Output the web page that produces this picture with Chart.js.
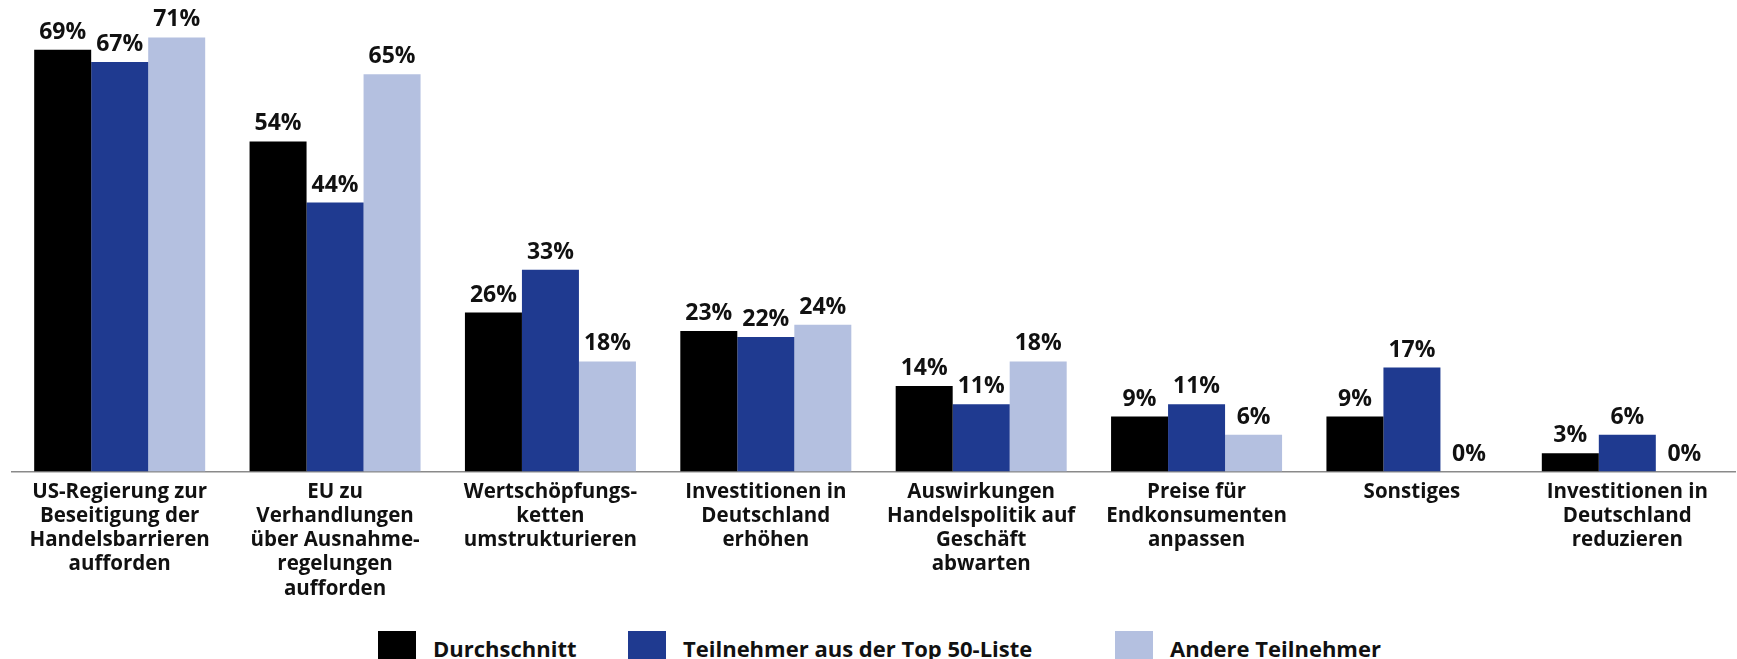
<!DOCTYPE html>
<html lang="de">
<head>
<meta charset="utf-8">
<title>Maßnahmen</title>
<script src="https://cdn.jsdelivr.net/npm/chart.js@4.4.1/dist/chart.umd.min.js"></script>
<style>
  html, body { margin: 0; padding: 0; background: #fff; overflow: hidden; }
  #wrap { position: relative; width: 1737px; height: 601px; }
  #legend { position: absolute; left: 0; top: 631px; width: 1737px; height: 40px;
            font: bold 22px "Open Sans", sans-serif; color: #111; }
  #legend .box { position: absolute; top: 0; width: 38px; height: 38px; }
  #legend .txt { position: absolute; top: 2px; line-height: 30px; white-space: nowrap; }
</style>
</head>
<body>
<div id="wrap"><canvas id="chart"></canvas></div>
<div id="legend"></div>
<script>
const categories = [
  ["US-Regierung zur", "Beseitigung der", "Handelsbarrieren", "aufforden"],
  ["EU zu", "Verhandlungen", "über Ausnahme-", "regelungen", "aufforden"],
  ["Wertschöpfungs-", "ketten", "umstrukturieren"],
  ["Investitionen in", "Deutschland", "erhöhen"],
  ["Auswirkungen", "Handelspolitik auf", "Geschäft", "abwarten"],
  ["Preise für", "Endkonsumenten", "anpassen"],
  ["Sonstiges"],
  ["Investitionen in", "Deutschland", "reduzieren"]
];
const seriesNames = ["Durchschnitt", "Teilnehmer aus der Top 50-Liste", "Andere Teilnehmer"];
const seriesColors = ["#000000", "#1f3a90", "#b4c0e0"];
const durchschnitt = [69, 54, 26, 23, 14, 9, 9, 3];
const top50 = [67, 44, 33, 22, 11, 11, 17, 6];
const andere = [71, 65, 18, 24, 18, 6, 0, 0];

// legend slots (box left edge) as laid out in the original
const legendLeft = [378, 628, 1115];

const FONT = "'Open Sans', sans-serif";
const TEXT = "#111111";

const valueLabels = {
  id: "valueLabels",
  afterDatasetsDraw(chart) {
    const ctx = chart.ctx;
    ctx.save();
    ctx.font = `bold 23px ${FONT}`;
    ctx.fillStyle = TEXT;
    ctx.textAlign = "center";
    ctx.textBaseline = "alphabetic";
    chart.data.datasets.forEach((ds, i) => {
      chart.getDatasetMeta(i).data.forEach((bar, j) => {
        ctx.fillText(`${ds.data[j]}%`, bar.x, bar.y - 11);
      });
    });
    ctx.restore();
  }
};

const chart = new Chart(document.getElementById("chart"), {
  type: "bar",
  data: {
    labels: categories,
    datasets: [
      { label: seriesNames[0], data: durchschnitt, backgroundColor: seriesColors[0] },
      { label: seriesNames[1], data: top50, backgroundColor: seriesColors[1] },
      { label: seriesNames[2], data: andere, backgroundColor: seriesColors[2] }
    ]
  },
  options: {
    responsive: true,
    maintainAspectRatio: false,
    animation: false,
    datasets: { bar: { categoryPercentage: 0.794, barPercentage: 1 } },
    layout: { padding: { top: 13, left: 12, right: 2, bottom: 0 } },
    scales: {
      x: {
        grid: { display: false },
        border: { display: true, color: "#8a8a8a", width: 1.5 },
        ticks: {
          color: TEXT,
          maxRotation: 0,
          autoSkip: false,
          padding: 0,
          font: { family: FONT, size: 20.5, weight: "bold", lineHeight: 1.185 }
        }
      },
      y: { display: false, min: 0, max: 75 }
    },
    plugins: {
      legend: { display: false },
      tooltip: { enabled: false }
    }
  },
  plugins: [valueLabels]
});

const legendEl = document.getElementById("legend");
chart.data.datasets.forEach((ds, i) => {
  const box = document.createElement("span");
  box.className = "box";
  box.style.left = legendLeft[i] + "px";
  box.style.background = ds.backgroundColor;
  const txt = document.createElement("span");
  txt.className = "txt";
  txt.style.left = (legendLeft[i] + 55) + "px";
  txt.textContent = ds.label;
  legendEl.appendChild(box);
  legendEl.appendChild(txt);
});
</script>
</body>
</html>
